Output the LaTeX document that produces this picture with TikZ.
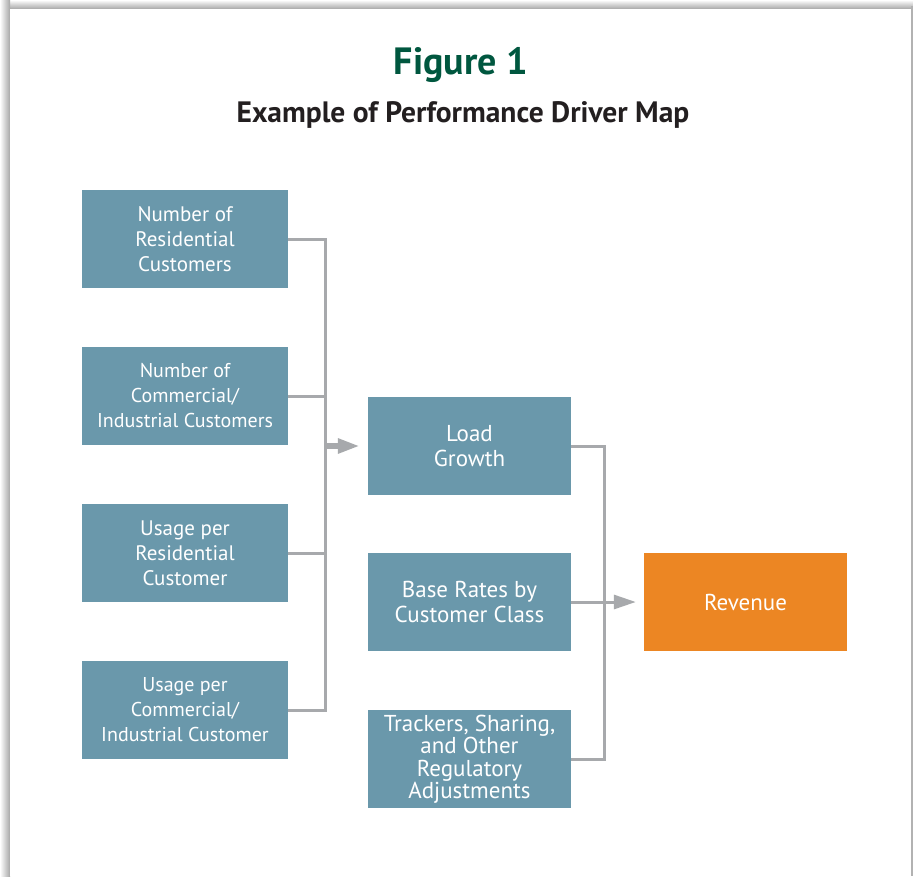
\documentclass[tikz,border=0pt]{standalone}
\usepackage{fontspec}
\setmainfont{PT Sans}
\usetikzlibrary{arrows.meta,positioning}

\definecolor{teal}{HTML}{6A98AB}
\definecolor{revorange}{HTML}{EC8623}
\definecolor{figgreen}{HTML}{00573F}
\definecolor{linkgray}{HTML}{A7A9AC}
\definecolor{inkdark}{HTML}{231F20}

\begin{document}
\begin{tikzpicture}[
  x=1pt, y=-1pt,
  font=\fontsize{21}{25}\selectfont,
  driver/.style={fill=teal, text=white, align=center, inner sep=0pt, minimum width=206pt, minimum height=98pt},
  mid/.style={driver, minimum width=203pt, font=\fontsize{23}{24.5}\selectfont},
  result/.style={mid, fill=revorange},
  link/.style={draw=linkgray, line width=3pt},
  arrow/.style={link, -{Triangle[length=22pt,width=14pt]}, shorten >=8pt}
]
\useasboundingbox (0,0) rectangle (913,876);

% page frame with shadow
\shade[top color=white, bottom color=black!35] (0,0) rectangle (913,9);
\shade[left color=white, right color=black!35] (0,0) rectangle (10,876);
\fill[black!30] (911,6) rectangle (913,876);
\fill[white] (10,9) rectangle (911,876);

\node[font=\fontsize{38}{44}\bfseries\selectfont, text=figgreen] (title) at (461,65) {Figure 1};
\node[font=\fontsize{29.5}{34}\bfseries\selectfont, text=inkdark] (subtitle) at (463,115) {Example of Performance Driver Map};

\node[driver] (nres) at (185,239) {Number of\\Residential\\Customers};
\node[driver, font=\fontsize{20}{25}\selectfont] (ncom) at (185,396) {Number of\\Commercial/\\Industrial Customers};
\node[driver] (ures) at (185,553) {Usage per\\Residential\\Customer};
\node[driver, font=\fontsize{20}{25}\selectfont] (ucom) at (185,710) {Usage per\\Commercial/\\Industrial Customer};

\node[mid] (load) at (469.5,446) {Load\\Growth};
\node[mid] (rates) at (469.5,602) {Base Rates by\\Customer Class};
\node[mid, font=\fontsize{23}{22.5}\selectfont] (track) at (469.5,759) {Trackers, Sharing,\\and Other\\Regulatory\\Adjustments};

\node[result] (rev) at (745.5,602) {Revenue};

\coordinate (busL) at (325,446);
\coordinate (busR) at (604,602);

\draw[link] (nres.east) -| (busL);
\draw[link] (ncom.east) -| (busL);
\draw[link] (ures.east) -| (busL);
\draw[link] (ucom.east) -| (busL);
\draw[arrow, line width=6pt] (busL) -- (load.west);

\draw[link] (load.east) -| (busR);
\draw[link] (track.east) -| (busR);
\draw[arrow] (rates.east) -- (rev.west);

\end{tikzpicture}
\end{document}
